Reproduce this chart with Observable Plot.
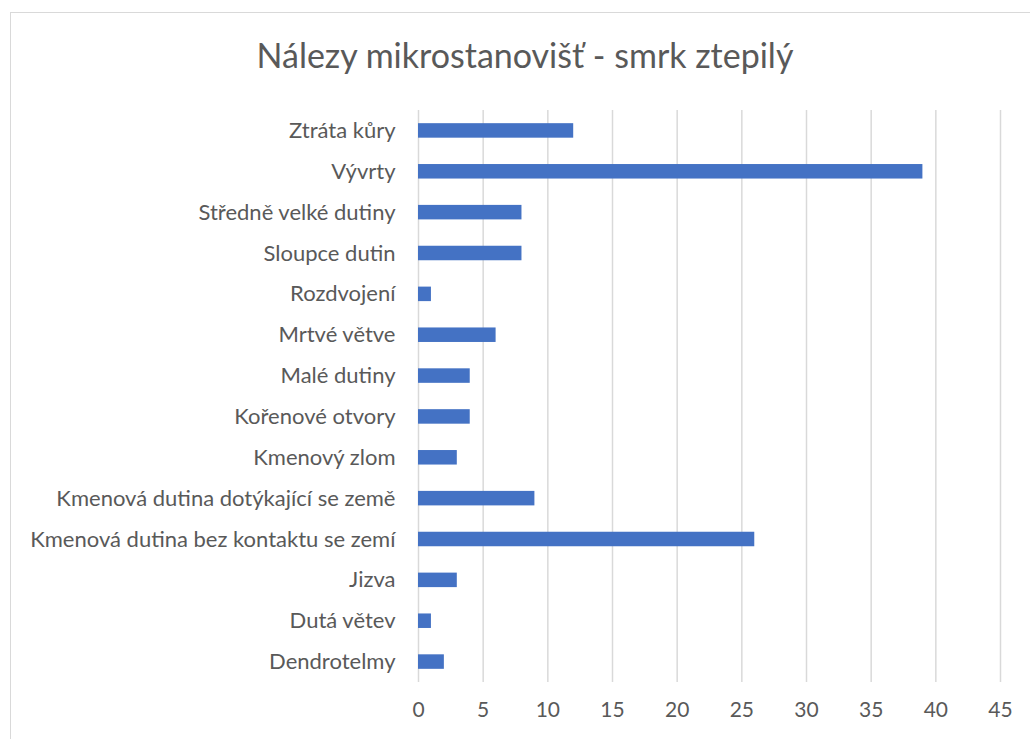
<!DOCTYPE html>
<html>
<head>
<meta charset="utf-8">
<script src="https://cdn.jsdelivr.net/npm/d3@7"></script>
<script src="https://cdn.jsdelivr.net/npm/@observablehq/plot@0.6"></script>
<style>
  html, body { margin: 0; padding: 0; background: #fff; }
  body { width: 1030px; height: 739px; overflow: hidden; position: relative; font-family: Lato, "Open Sans", sans-serif; }
  #frame { position: absolute; left: 10px; top: 12px; width: 1040px; height: 760px; border: 1.5px solid #d9d9d9; box-sizing: border-box; }
  #title { position: absolute; left: 10px; top: 0; width: 1030px; height: 100px; text-align: center; line-height: 110px; font-size: 34px; color: #595959; }
  #chart { position: absolute; left: 0; top: 100px; }
</style>
</head>
<body>
<div id="frame"></div>
<div id="title">Nálezy mikrostanovišť - smrk ztepilý</div>
<div id="chart"></div>
<script>
const categories = [
  "Ztráta kůry",
  "Vývrty",
  "Středně velké dutiny",
  "Sloupce dutin",
  "Rozdvojení",
  "Mrtvé větve",
  "Malé dutiny",
  "Kořenové otvory",
  "Kmenový zlom",
  "Kmenová dutina dotýkající se země",
  "Kmenová dutina bez kontaktu se zemí",
  "Jizva",
  "Dutá větev",
  "Dendrotelmy"
];
const values = [12, 39, 8, 8, 1, 6, 4, 4, 3, 9, 26, 3, 1, 2];
const xTicks = [0, 5, 10, 15, 20, 25, 30, 35, 40, 45];

const data = categories.map((c, i) => ({category: c, value: values[i]}));

const chart = Plot.plot({
  width: 1030,
  height: 639,
  marginLeft: 418,
  marginRight: 30,
  marginTop: 10,
  marginBottom: 57,
  style: {fontFamily: "Lato, 'Open Sans', sans-serif", background: "transparent", color: "#595959"},
  x: {domain: [0, 45], ticks: xTicks, label: null},
  y: {domain: categories, paddingInner: 0.645, paddingOuter: 0.3225, round: false, label: null},
  marks: [
    Plot.gridX(xTicks, {stroke: "#d9d9d9", strokeOpacity: 1, strokeWidth: 1.5}),
    Plot.barX(data, {x: "value", y: "category", fill: "#4472c4"}),
    Plot.axisX(xTicks, {tickSize: 0, tickPadding: 20, fontSize: 21, fill: "#595959", label: null}),
    Plot.axisY({tickSize: 0, tickPadding: 23, fontSize: 22, fill: "#595959", label: null})
  ]
});
document.getElementById("chart").appendChild(chart);
</script>
</body>
</html>
